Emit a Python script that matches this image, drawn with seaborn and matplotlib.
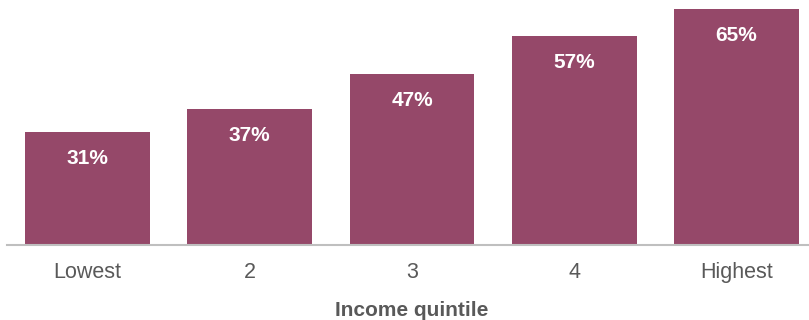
import matplotlib
matplotlib.use("Agg")
import matplotlib.pyplot as plt
import seaborn as sns
import pandas as pd

quintiles = ["Lowest", "2", "3", "4", "Highest"]
shares = [31.0, 37.3, 46.9, 57.3, 64.7]
labels = ["31%", "37%", "47%", "57%", "65%"]

df = pd.DataFrame({"quintile": quintiles, "share": shares})

sns.set_style("white")
plt.rcParams["font.family"] = ["Liberation Sans", "DejaVu Sans"]

fig = plt.figure(figsize=(8.09, 3.2), dpi=100)
ax = fig.add_axes([6.5 / 809, 75 / 320, 811 / 809, 245 / 320])

sns.barplot(data=df, x="quintile", y="share", color="#954869",
            saturation=1, width=0.77, linewidth=0, ax=ax)

# value labels inside the bars
for i, (v, lab) in enumerate(zip(shares, labels)):
    ax.annotate(lab, xy=(i, v), xytext=(0, -27), textcoords="offset pixels",
                ha="center", va="center", color="white",
                fontsize=15, fontweight="bold")

ax.set_xlim(-0.5, 4.5)
ax.set_ylim(0, 245 / 3.65)
ax.set_yticks([])
ax.set_ylabel("")
ax.set_xlabel("Income quintile", fontsize=15, fontweight="bold",
              color="#595959", labelpad=13)

for s in ["top", "right", "left"]:
    ax.spines[s].set_visible(False)
ax.spines["bottom"].set_color("#bfbfbf")
ax.spines["bottom"].set_linewidth(1.5)
ax.tick_params(axis="x", length=0, pad=12, labelsize=15.5, labelcolor="#595959")

fig.savefig("out.png", dpi=100)
